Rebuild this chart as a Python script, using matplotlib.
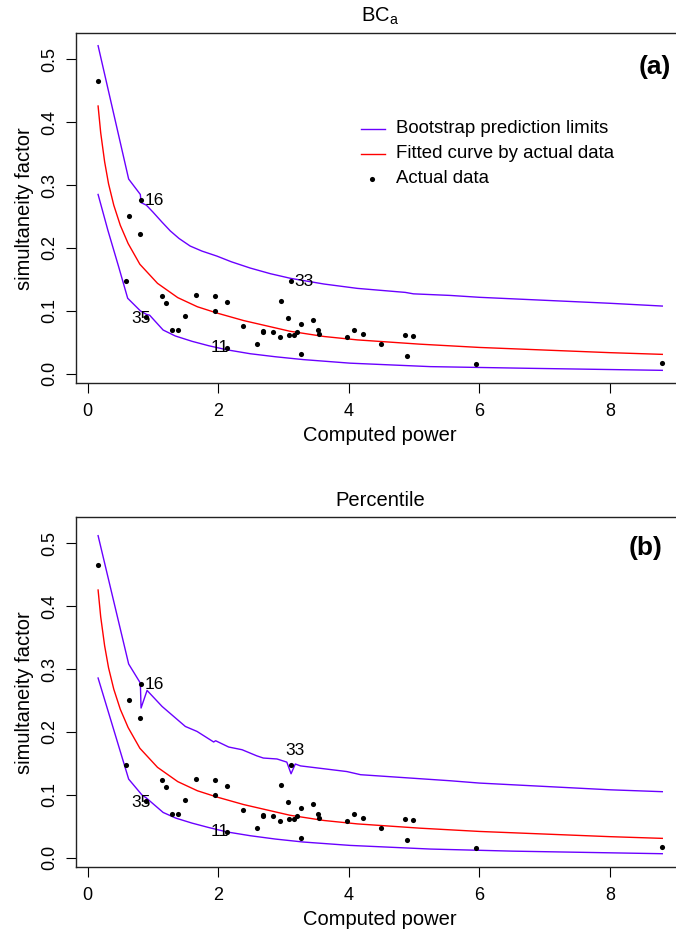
import matplotlib
matplotlib.use("Agg")
import matplotlib.pyplot as plt
from matplotlib.lines import Line2D

plt.rcParams['font.family'] = ['Liberation Sans', 'DejaVu Sans']
plt.rcParams['mathtext.fontset'] = 'custom'
plt.rcParams['mathtext.rm'] = 'Liberation Sans'
plt.rcParams['mathtext.it'] = 'Liberation Sans:italic'

# ---- data: actual points (computed power, simultaneity factor) ----
power = [0.16, 0.588, 0.628, 0.807, 0.818, 0.899, 1.139, 1.195, 1.29, 1.38,
         1.496, 1.66, 1.956, 1.956, 2.135, 2.135, 2.374, 2.59, 2.68, 2.69,
         2.836, 2.946, 2.962, 3.063, 3.078, 3.115, 3.165, 3.20, 3.268, 3.268,
         3.452, 3.522, 3.544, 3.972, 4.08, 4.21, 4.49, 4.86, 4.896, 4.99,
         5.953, 8.80]
sfactor = [0.465, 0.148, 0.250, 0.2226, 0.276, 0.0896, 0.124, 0.112, 0.0695, 0.070,
           0.0917, 0.125, 0.123, 0.099, 0.114, 0.0413, 0.0758, 0.047, 0.066, 0.068,
           0.0668, 0.0589, 0.116, 0.089, 0.062, 0.147, 0.062, 0.0663, 0.079, 0.0308,
           0.0859, 0.0695, 0.0631, 0.0579, 0.069, 0.0636, 0.0467, 0.061, 0.0286, 0.060,
           0.0154, 0.0175]

# labelled points
lab_names = ["16", "35", "11", "33"]
lab_x = [0.818, 0.899, 2.135, 3.115]
lab_y = [0.276, 0.0896, 0.0413, 0.147]

# fitted curve (same in both panels)
fit_x = [0.16, 0.20, 0.26, 0.32, 0.40, 0.50, 0.62, 0.80, 1.07, 1.38, 1.68, 1.98,
         2.39, 3.10, 3.62, 4.13, 5.09, 6.0, 8.0, 8.8]
fit_y = [0.4256, 0.383, 0.337, 0.302, 0.268, 0.236, 0.207, 0.174, 0.1437, 0.121,
         0.1065, 0.0965, 0.0845, 0.0675, 0.0592, 0.0538, 0.0470, 0.0418, 0.0335, 0.0308]

# BCa bootstrap limits
up_a_x = [0.16, 0.628, 0.807, 0.818, 0.899, 1.0, 1.139, 1.266, 1.4, 1.57, 1.75,
          1.98, 2.2, 2.49, 2.8, 3.11, 3.62, 4.13, 4.865, 4.99, 5.55, 6.0, 8.0, 8.8]
up_a_y = [0.5215, 0.3095, 0.285, 0.272, 0.268, 0.257, 0.241, 0.227, 0.215, 0.203,
          0.195, 0.187, 0.178, 0.168, 0.159, 0.1516, 0.1426, 0.1357, 0.1293, 0.1270,
          0.1245, 0.1215, 0.112, 0.1076]
lo_a_x = [0.16, 0.31, 0.475, 0.613, 0.807, 0.899, 0.95, 1.156, 1.343, 1.6, 1.855,
          2.135, 2.49, 2.875, 3.3, 4.02, 5.25, 6.78, 8.8]
lo_a_y = [0.285, 0.228, 0.170, 0.120, 0.100, 0.0944, 0.093, 0.0695, 0.060, 0.0515,
          0.0445, 0.038, 0.0318, 0.027, 0.0225, 0.0168, 0.0113, 0.0086, 0.0054]

# Percentile bootstrap limits
up_b_x = [0.16, 0.628, 0.807, 0.818, 0.91, 1.14, 1.496, 1.675, 1.93, 1.96, 2.16,
          2.365, 2.59, 2.69, 2.9, 3.05, 3.115, 3.18, 3.26, 3.97, 4.18, 5.55, 6.0,
          8.0, 8.8]
up_b_y = [0.512, 0.308, 0.2777, 0.238, 0.266, 0.2405, 0.2087, 0.2008, 0.184, 0.186,
          0.176, 0.1717, 0.162, 0.1585, 0.157, 0.152, 0.1335, 0.149, 0.146, 0.137,
          0.132, 0.1224, 0.1187, 0.108, 0.105]
lo_b_x = [0.16, 0.628, 0.83, 0.899, 1.156, 1.35, 1.6, 1.855, 2.135, 2.49, 2.875,
          3.3, 4.02, 5.25, 6.5, 8.8]
lo_b_y = [0.2857, 0.125, 0.100, 0.095, 0.072, 0.063, 0.055, 0.048, 0.041, 0.035,
          0.0297, 0.025, 0.0196, 0.0138, 0.0105, 0.0064]

titles = [r"$\mathrm{BC}_{\mathrm{a}}$", "Percentile"]
tags = ["(a)", "(b)"]
legend_labels = ["Bootstrap prediction limits", "Fitted curve by actual data", "Actual data"]

BLUE = "#6a00ff"
RED = "#ff0000"

W, H = 676, 935
fig = plt.figure(figsize=(W / 100, H / 100), dpi=100)

def px_axes(left, top, right, bottom):
    return fig.add_axes([left / W, 1 - bottom / H, (right - left) / W, (bottom - top) / H])

axes = [px_axes(75.5, 33.3, 685, 383.3), px_axes(75.5, 517.3, 685, 867.3)]
uppers = [(up_a_x, up_a_y), (up_b_x, up_b_y)]
lowers = [(lo_a_x, lo_a_y), (lo_b_x, lo_b_y)]
tag_pos = [(671, 67.0), (663, 547.5)]   # pixel positions (right edge, centre y)

for i, ax in enumerate(axes):
    ax.plot(uppers[i][0], uppers[i][1], color=BLUE, lw=1.0)
    ax.plot(lowers[i][0], lowers[i][1], color=BLUE, lw=1.0)
    ax.plot(fit_x, fit_y, color=RED, lw=1.0)
    ax.plot(power, sfactor, 'o', color='black', ms=3.7, mew=0)
    ax.set_xlim(-0.186, -0.186 + (685 - 75.5) / 65.3)
    ax.set_ylim(-0.0152, 0.5412)
    ax.set_xticks([0, 2, 4, 6, 8])
    ax.set_yticks([0.0, 0.1, 0.2, 0.3, 0.4, 0.5])
    ax.set_yticklabels(["0.0", "0.1", "0.2", "0.3", "0.4", "0.5"], rotation=90, va='center')
    ax.tick_params(direction='out', length=7, width=0.8, labelsize=13)
    ax.tick_params(axis='x', pad=7.5)
    ax.tick_params(axis='y', pad=5.5)
    for s in ax.spines.values():
        s.set_linewidth(1.0)
        s.set_color('#222222')
    ax.set_xlabel("Computed power", fontsize=14.5, labelpad=4)
    ax.set_ylabel("simultaneity factor", fontsize=14.5, labelpad=5)
    ax.set_title(titles[i], fontsize=14.5, pad=8)
    fig.text(tag_pos[i][0] / W, 1 - tag_pos[i][1] / H, tags[i], fontsize=19,
             fontweight='bold', ha='right', va='center')
    fs = 12.5
    ax.annotate(lab_names[0], (lab_x[0], lab_y[0]), xytext=(2.5, 0), textcoords='offset points',
                ha='left', va='center', fontsize=fs)
    ax.annotate(lab_names[1], (lab_x[1], lab_y[1]), xytext=(3, -0.5), textcoords='offset points',
                ha='right', va='center', fontsize=fs)
    ax.annotate(lab_names[2], (lab_x[2], lab_y[2]), xytext=(1.5, 0.5), textcoords='offset points',
                ha='right', va='center', fontsize=fs)
    if i == 0:
        ax.annotate(lab_names[3], (lab_x[3], lab_y[3]), xytext=(2.5, 0), textcoords='offset points',
                    ha='left', va='center', fontsize=fs)
    else:
        ax.annotate(lab_names[3], (lab_x[3], lab_y[3]), xytext=(2.5, 10.5), textcoords='offset points',
                    ha='center', va='center', fontsize=fs)

# legend drawn in figure pixel positions (no box, like R's bty="n")
leg_rows = [128.5, 153.5, 178.5]
for k, lab in enumerate(legend_labels):
    yf = 1 - leg_rows[k] / H
    if k < 2:
        fig.add_artist(Line2D([361 / W, 385 / W], [yf, yf], color=[BLUE, RED][k], lw=1.0,
                              transform=fig.transFigure))
    else:
        fig.add_artist(Line2D([372.5 / W], [yf], color='black', marker='o', ms=3.7, mew=0,
                              ls='none', transform=fig.transFigure))
    fig.text(396 / W, yf, lab, fontsize=13.4, ha='left', va='center')

fig.savefig("out.png", dpi=100)
